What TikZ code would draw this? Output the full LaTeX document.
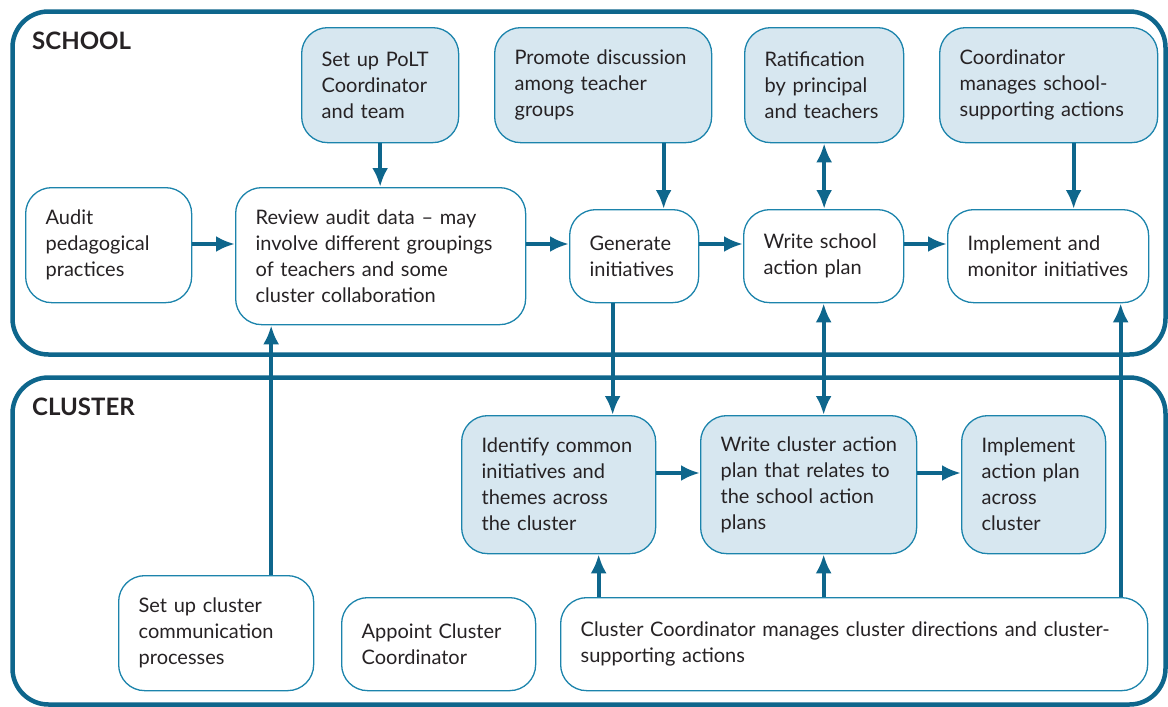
\documentclass[tikz,border=0pt]{standalone}
\usepackage{fontspec}
\setmainfont{Lato}
\usepackage{tikz}
\usetikzlibrary{shapes,arrows.meta}
\definecolor{deepblue}{RGB}{14,102,140}
\definecolor{edgeblue}{RGB}{28,132,172}
\definecolor{paleblue}{RGB}{215,231,240}
\definecolor{inkgrey}{RGB}{38,34,36}
\tikzstyle{plainbox} = [rectangle, draw=edgeblue, fill=white, line width=1.3pt,
    rounded corners=26pt, inner xsep=20pt, inner ysep=0pt, align=left,
    anchor=north west, text=inkgrey, font=\fontsize{20}{26}\selectfont]
\tikzstyle{shadedbox} = [plainbox, fill=paleblue]
\tikzstyle{frame} = [draw=deepblue, line width=4.5pt, rounded corners=36pt]
\tikzstyle{heading} = [anchor=base west, inner sep=0pt, text=inkgrey,
    font=\bfseries\fontsize{24}{24}\selectfont]
\tikzstyle{arrow} = [draw=deepblue, line width=4pt, ->]

\begin{document}
\begin{tikzpicture}[x=1pt, y=-1pt, >={Latex[length=19pt,width=16pt]}]
    \useasboundingbox (0,0) rectangle (1168,707);
    \draw[frame] (12.5,11.5) rectangle (1165.5,354.5);
    \draw[frame] (12.5,377.5) rectangle (1165.5,704.5);
    \node[heading] (school) at (32,49) {SCHOOL};
    \node[heading] (cluster) at (32,415) {CLUSTER};

    % school
    \node[shadedbox, text width=117pt, minimum height=115pt] (polt) at (301,27) {Set up PoLT\\Coordinator\\and team};
    \node[shadedbox, text width=177pt, minimum height=115pt] (promote) at (494,27) {Promote discussion\\among teacher\\groups};
    \node[shadedbox, text width=119pt, minimum height=115pt] (ratify) at (744,27) {Ratification\\by principal\\and teachers};
    \node[shadedbox, text width=178pt, minimum height=115pt] (coord) at (939,27) {Coordinator\\manages school-\\supporting actions};
    \node[plainbox, text width=126pt, minimum height=115pt] (audit) at (25,187) {Audit\\pedagogical\\practices};
    \node[plainbox, text width=250pt, minimum height=137pt] (review) at (235,187) {Review audit data -- may\\involve different groupings\\of teachers and some\\cluster collaboration};
    \node[plainbox, text width=89pt, minimum height=93pt] (generate) at (569,209) {Generate\\initiatives};
    \node[plainbox, text width=120pt, minimum height=93pt] (schoolplan) at (743,209) {Write school\\action plan};
    \node[plainbox, text width=161pt, minimum height=93pt] (implement) at (947,209) {Implement and\\monitor initiatives};

    % cluster
    \node[shadedbox, text width=154pt, minimum height=138pt] (identify) at (461,415) {Identify common\\initiatives and\\themes across\\the cluster};
    \node[shadedbox, text width=182pt, inner xsep=17pt, minimum height=138pt] (clusterplan) at (700,415) {\hspace*{3pt}Write cluster action\\\hspace*{3pt}plan that relates to\\\hspace*{3pt}the school action\\\hspace*{3pt}plans};
    \node[shadedbox, text width=104pt, minimum height=138pt] (spread) at (961,415) {Implement\\action plan\\across\\cluster};
    \node[plainbox, text width=155pt, minimum height=115pt] (comms) at (118,575) {Set up cluster\\communication\\processes};
    \node[plainbox, text width=154pt, minimum height=93pt] (appoint) at (341,597) {Appoint Cluster\\Coordinator};
    \node[plainbox, text width=547pt, minimum height=93pt] (manage) at (560,597) {Cluster Coordinator manages cluster directions and cluster-\\supporting actions};

    \coordinate (srow) at (0,244);
    \coordinate (crow) at (0,473);

    \draw[arrow] (audit.east |- srow) -- (review.west |- srow);
    \draw[arrow] (review.east |- srow) -- (generate.west |- srow);
    \draw[arrow] (generate.east |- srow) -- (schoolplan.west |- srow);
    \draw[arrow] (schoolplan.east |- srow) -- (implement.west |- srow);
    \draw[arrow] (identify.east |- crow) -- (clusterplan.west |- crow);
    \draw[arrow] (clusterplan.east |- crow) -- (spread.west |- crow);

    \draw[arrow] (polt.south) -- (polt.south |- review.north);
    \draw[arrow] ([xshift=60.5pt]promote.south) -- ([xshift=29.5pt]generate.north);
    \draw[arrow, <->] (ratify.south) -- (ratify.south |- schoolplan.north);
    \draw[arrow] ([xshift=25pt]coord.south) -- ([xshift=25.5pt]implement.north);
    \draw[arrow] ([xshift=-21.5pt]generate.south) -- ([xshift=-21.5pt]generate.south |- identify.north);
    \draw[arrow, <->] (schoolplan.south) -- (schoolplan.south |- clusterplan.north);
    \draw[arrow] ([xshift=55pt]comms.north) -- ([xshift=55pt]comms.north |- review.south);
    \draw[arrow] ([xshift=40pt]identify.south |- manage.north) -- ([xshift=40pt]identify.south);
    \draw[arrow] (schoolplan.south |- manage.north) -- (schoolplan.south |- clusterplan.south);
    \draw[arrow] ([xshift=266.5pt]manage.north) -- ([xshift=266.5pt]manage.north |- implement.south);
\end{tikzpicture}
\end{document}
